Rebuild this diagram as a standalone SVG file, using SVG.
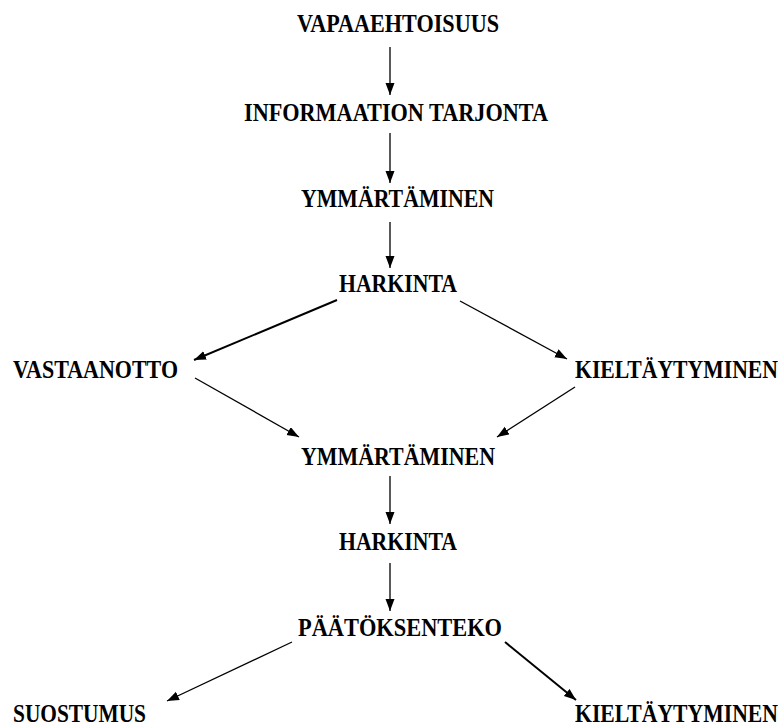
<svg xmlns="http://www.w3.org/2000/svg" width="784" height="726" viewBox="0 0 784 726">
<defs>
<style>
.lbl{font-family:"Liberation Serif","Times New Roman",serif;font-weight:bold;font-size:24.5px;fill:#000}
.c{stroke:#000;stroke-width:1.3;fill:none;marker-end:url(#ah)}
.t{stroke-width:2}
</style>
<marker id="ah" markerUnits="userSpaceOnUse" markerWidth="12" markerHeight="10" refX="12" refY="4.5" orient="auto">
<path d="M0,0 L12,4.5 L0,9 z" fill="#000"/>
</marker>
</defs>
<rect width="784" height="726" fill="#fff"/>
<g id="connectors">
<line class="c" x1="390" y1="47" x2="390" y2="95"/>
<line class="c" x1="390" y1="133" x2="390" y2="183"/>
<line class="c" x1="390" y1="222" x2="390" y2="268"/>
<line class="c t" x1="337" y1="300" x2="194" y2="360"/>
<line class="c" x1="460" y1="301" x2="567" y2="359"/>
<line class="c" x1="195" y1="378" x2="299" y2="437"/>
<line class="c" x1="575" y1="387" x2="497" y2="437"/>
<line class="c" x1="390" y1="476" x2="390" y2="524"/>
<line class="c" x1="390" y1="563" x2="390" y2="611"/>
<line class="c" x1="292" y1="642" x2="167" y2="701"/>
<line class="c t" x1="505" y1="642" x2="576" y2="700"/>
</g>
<g id="n1"><text class="lbl" x="297" y="32" textLength="202" lengthAdjust="spacingAndGlyphs">VAPAAEHTOISUUS</text></g>
<g id="n2"><text class="lbl" x="244" y="121" textLength="304" lengthAdjust="spacingAndGlyphs">INFORMAATION TARJONTA</text></g>
<g id="n3"><text class="lbl" x="301" y="207" textLength="193" lengthAdjust="spacingAndGlyphs">YMMÄRTÄMINEN</text></g>
<g id="n4"><text class="lbl" x="339" y="292" textLength="118" lengthAdjust="spacingAndGlyphs">HARKINTA</text></g>
<g id="n5"><text class="lbl" x="13" y="378" textLength="165" lengthAdjust="spacingAndGlyphs">VASTAANOTTO</text></g>
<g id="n6"><text class="lbl" x="575" y="378" textLength="203" lengthAdjust="spacingAndGlyphs">KIELTÄYTYMINEN</text></g>
<g id="n7"><text class="lbl" x="301" y="465" textLength="194" lengthAdjust="spacingAndGlyphs">YMMÄRTÄMINEN</text></g>
<g id="n8"><text class="lbl" x="339" y="550" textLength="118" lengthAdjust="spacingAndGlyphs">HARKINTA</text></g>
<g id="n9"><text class="lbl" x="298" y="636" textLength="204" lengthAdjust="spacingAndGlyphs">PÄÄTÖKSENTEKO</text></g>
<g id="n10"><text class="lbl" x="13" y="722" textLength="133" lengthAdjust="spacingAndGlyphs">SUOSTUMUS</text></g>
<g id="n11"><text class="lbl" x="575" y="722" textLength="203" lengthAdjust="spacingAndGlyphs">KIELTÄYTYMINEN</text></g>
</svg>
